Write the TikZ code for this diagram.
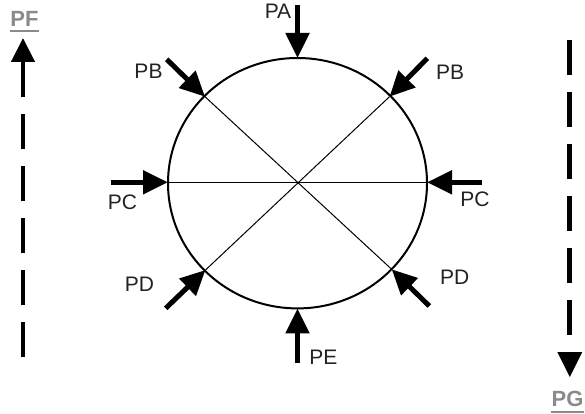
\documentclass[tikz,border=0pt]{standalone}
\usepackage{fontspec}
\setmainfont{Liberation Sans}
\usetikzlibrary{arrows.meta}
\definecolor{lblgray}{HTML}{222222}
\definecolor{ttlgray}{HTML}{8A8A8A}
\begin{document}
\begin{tikzpicture}[x=1pt,y=-1pt,
  lab/.style={inner sep=0pt, text=lblgray, font=\fontsize{21}{21}\selectfont},
  ttlsty/.style={inner sep=0pt, text=ttlgray, font=\fontsize{22}{22}\selectfont\bfseries},
  force/.style={line width=5pt, -{Triangle[length=25pt,width=23pt]}},
  ring/.style={line width=2pt},
  chord/.style={line width=1pt},
  dashline/.style={line width=4.5pt, dash pattern=on 35pt off 17pt},
  flowtip/.style={line width=4.5pt, -{Triangle[length=24pt,width=23pt]}},
  uline/.style={line width=2pt, draw=ttlgray}]
\useasboundingbox (0,0) rectangle (585,414);

% circle and chords
\coordinate (c) at (297.5,183.2);
\draw[ring] (c) ellipse [x radius=129.5, y radius=125.2];
\coordinate (ul) at (205,96.7);
\coordinate (ur) at (389.5,96.7);
\coordinate (ll) at (205.5,270);
\coordinate (lr) at (391.7,269.3);
\coordinate (lm) at (168,182.3);
\coordinate (rm) at (427,182.3);
\coordinate (tm) at (297.5,58);
\coordinate (bm) at (297.5,308.4);
\draw[chord] (ul) -- (lr);
\draw[chord] (ur) -- (ll);
\draw[chord] (lm) -- (rm);

% force arrows
\coordinate (ta) at (297.5,5);
\coordinate (tbl) at (166.7,59.3);
\coordinate (tbr) at (427.3,58.3);
\coordinate (tcl) at (110.7,182.3);
\coordinate (tcr) at (481.7,182.3);
\coordinate (tdl) at (165.7,308.3);
\coordinate (tdr) at (429.3,306);
\coordinate (te) at (297.5,363.3);
\draw[force] (ta) -- (tm);
\draw[force] (tbl) -- (ul);
\draw[force] (tbr) -- (ur);
\draw[force] (tcl) -- (lm);
\draw[force] (tcr) -- (rm);
\draw[force] (tdl) -- (ll);
\draw[force] (tdr) -- (lr);
\draw[force] (te) -- (bm);

% labels
\node[lab] (pa) at (278,11.7) {PA};
\node[lab] (pbl) at (148.5,71.7) {PB};
\node[lab] (pbr) at (450,72) {PB};
\node[lab] (pcl) at (122.5,202.7) {PC};
\node[lab] (pcr) at (475,199.2) {PC};
\node[lab] (pdl) at (139.5,284) {PD};
\node[lab] (pdr) at (454.7,277) {PD};
\node[lab] (pe) at (323.3,357.5) {PE};

% PF flow (up)
\coordinate (pfbot) at (23,357);
\coordinate (pfmid) at (23,114);
\coordinate (pfs) at (23,97);
\coordinate (pftip) at (23,38);
\draw[dashline] (pfbot) -- (pfmid);
\draw[flowtip] (pfs) -- (pftip);
\node[ttlsty] (pf) at (24.5,18.5) {PF};
\draw[uline] ([yshift=-4.75pt]pf.south west) -- ([yshift=-4.75pt]pf.south east);

% PG flow (down)
\coordinate (pgtop) at (569.3,40);
\coordinate (pgbot) at (569.3,335);
\draw[dashline] (pgtop) -- (pgbot);
\fill (557.3,352) -- (582.3,352) -- (569.8,377) -- cycle;
\node[ttlsty] (pg) at (567.5,399.2) {PG};
\draw[uline] ([yshift=-4.75pt]pg.south west) -- ([yshift=-4.75pt]pg.south east);
\end{tikzpicture}
\end{document}
